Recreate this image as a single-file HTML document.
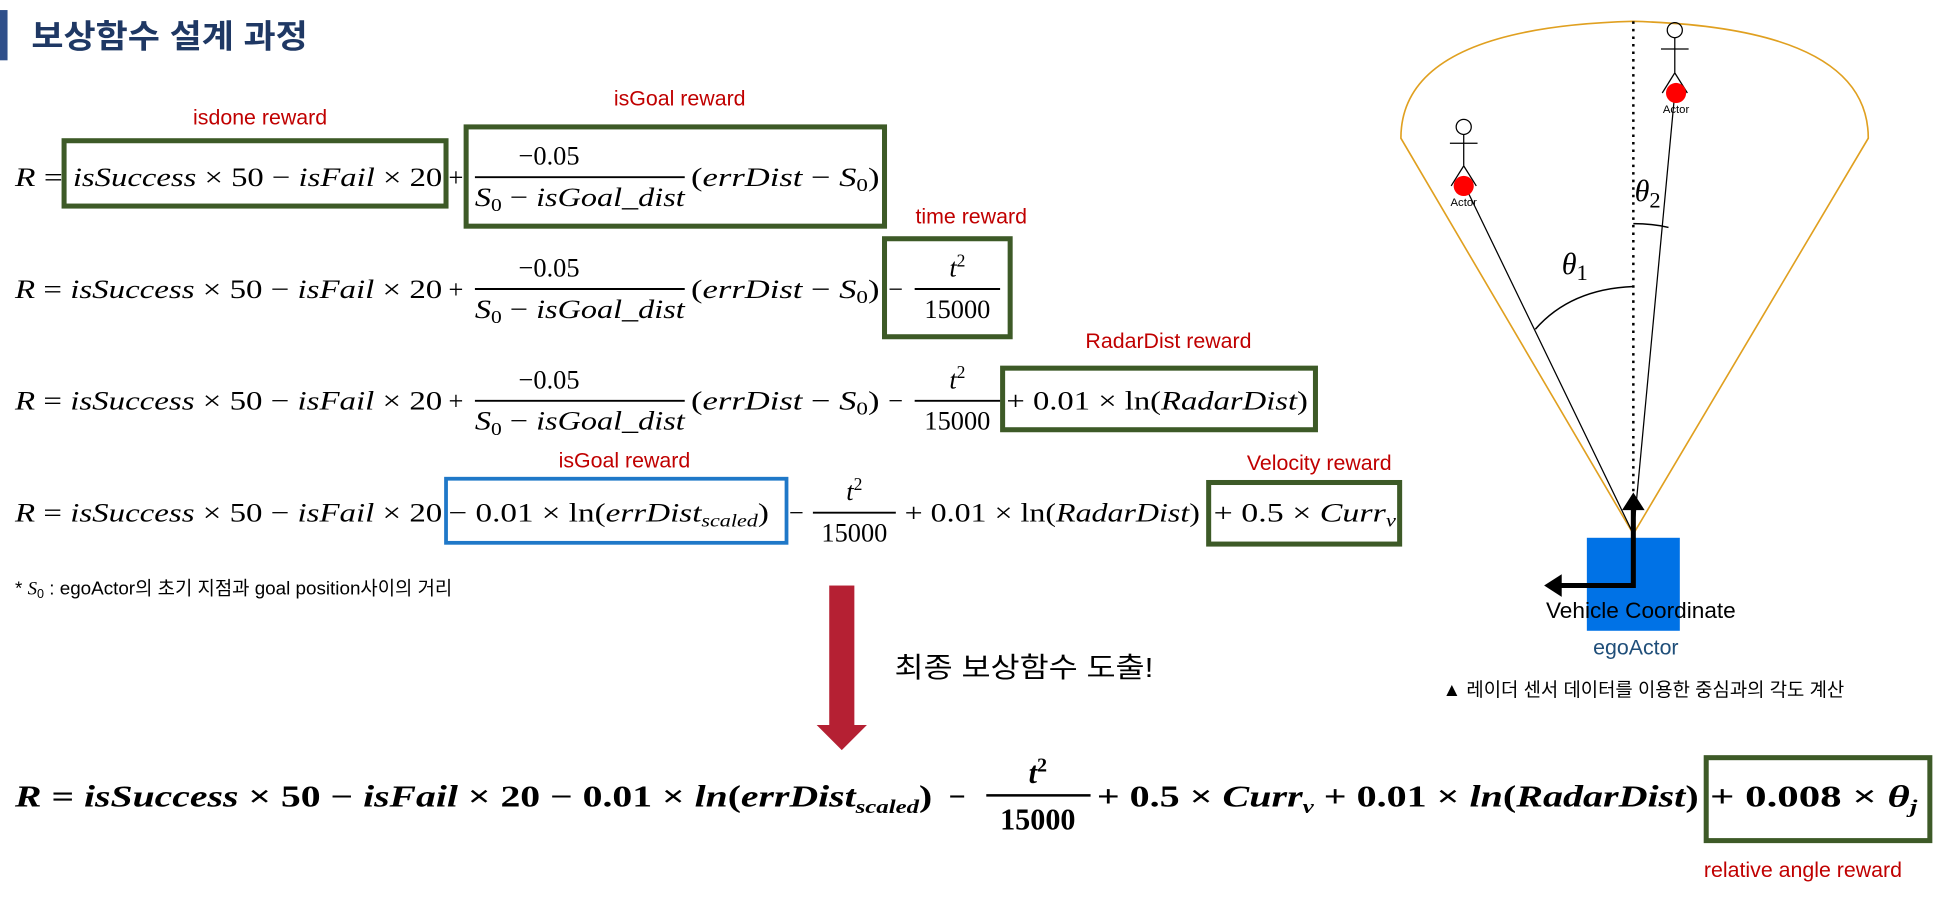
<!DOCTYPE html>
<html><head><meta charset="utf-8"><style>
html,body{margin:0;padding:0;background:#fff;}
svg{display:block;}
.m{font-family:"Liberation Serif",serif;font-style:italic;font-size:21px;fill:#000;}
.n{font-style:normal;}
.lab{font-family:"Liberation Sans","Noto Sans CJK KR",sans-serif;font-size:17px;fill:#c00000;text-anchor:middle;}
.b{font-weight:bold;font-size:24px;}
</style></head><body>
<svg width="1960" height="916" viewBox="0 0 1560 729" preserveAspectRatio="none" xmlns="http://www.w3.org/2000/svg">
<rect x="0" y="8" width="6" height="40" fill="#2f4f8a"/>
<text x="25" y="38" font-family="Liberation Sans,'Noto Sans CJK KR',sans-serif" font-size="26" font-weight="bold" fill="#1f3864" textLength="220" lengthAdjust="spacingAndGlyphs">보상함수 설계 과정</text>

<text class="lab" x="207" y="99">isdone reward</text>
<text class="lab" x="541" y="84">isGoal reward</text>
<text class="lab" x="773" y="178">time reward</text>
<text class="lab" x="930" y="277">RadarDist reward</text>
<text class="lab" x="497" y="372">isGoal reward</text>
<text class="lab" x="1050" y="374">Velocity reward</text>
<text class="lab" x="1435" y="698">relative angle reward</text>

<g fill="none" stroke="#3d5a27" stroke-width="4">
<rect x="51" y="112" width="304" height="52"/>
<rect x="371" y="101" width="333" height="79"/>
<rect x="704" y="190" width="100" height="78"/>
<rect x="798" y="293" width="249" height="49"/>
<rect x="962" y="384" width="152" height="49"/>
<rect x="1358" y="603" width="178" height="66"/>
</g>
<rect x="355" y="381" width="271" height="51" fill="none" stroke="#1f78c8" stroke-width="3"/>

<g lengthAdjust="spacingAndGlyphs">
<text class="m" x="12" y="148" textLength="38" lengthAdjust="spacingAndGlyphs">R <tspan class="n">=</tspan></text>
<text class="m" x="58" y="148" textLength="294" lengthAdjust="spacingAndGlyphs">isSuccess <tspan class="n">× 50 −</tspan> isFail <tspan class="n">× 20</tspan></text>
<text class="m n" x="357" y="148">+</text>
<text class="m n" x="437" y="131" text-anchor="middle">−0.05</text>
<line x1="378" y1="141" x2="545" y2="141" stroke="#000" stroke-width="1.5"/>
<text class="m" x="378" y="164" textLength="167" lengthAdjust="spacingAndGlyphs">S<tspan class="n" font-size="14" dy="4">0</tspan><tspan dy="-4" class="n"> − </tspan>isGoal_dist</text>
<text class="m" x="550" y="148" textLength="150" lengthAdjust="spacingAndGlyphs"><tspan class="n">(</tspan>errDist <tspan class="n">− </tspan>S<tspan class="n" font-size="14" dy="4">0</tspan><tspan class="n" dy="-4">)</tspan></text>

<text class="m" x="12" y="237" textLength="340" lengthAdjust="spacingAndGlyphs">R <tspan class="n">=</tspan> isSuccess <tspan class="n">× 50 −</tspan> isFail <tspan class="n">× 20</tspan></text>
<text class="m n" x="357" y="237">+</text>
<text class="m n" x="437" y="220" text-anchor="middle">−0.05</text>
<line x1="378" y1="230" x2="545" y2="230" stroke="#000" stroke-width="1.5"/>
<text class="m" x="378" y="253" textLength="167" lengthAdjust="spacingAndGlyphs">S<tspan class="n" font-size="14" dy="4">0</tspan><tspan dy="-4" class="n"> − </tspan>isGoal_dist</text>
<text class="m" x="550" y="237" textLength="150" lengthAdjust="spacingAndGlyphs"><tspan class="n">(</tspan>errDist <tspan class="n">− </tspan>S<tspan class="n" font-size="14" dy="4">0</tspan><tspan class="n" dy="-4">)</tspan></text>
<text class="m n" x="707" y="237">−</text>
<text class="m" x="762" y="220" text-anchor="middle">t<tspan class="n" font-size="14" dy="-8">2</tspan></text>
<line x1="728" y1="230" x2="796" y2="230" stroke="#000" stroke-width="1.5"/>
<text class="m n" x="762" y="253" text-anchor="middle">15000</text>

<text class="m" x="12" y="326" textLength="340" lengthAdjust="spacingAndGlyphs">R <tspan class="n">=</tspan> isSuccess <tspan class="n">× 50 −</tspan> isFail <tspan class="n">× 20</tspan></text>
<text class="m n" x="357" y="326">+</text>
<text class="m n" x="437" y="309" text-anchor="middle">−0.05</text>
<line x1="378" y1="319" x2="545" y2="319" stroke="#000" stroke-width="1.5"/>
<text class="m" x="378" y="342" textLength="167" lengthAdjust="spacingAndGlyphs">S<tspan class="n" font-size="14" dy="4">0</tspan><tspan dy="-4" class="n"> − </tspan>isGoal_dist</text>
<text class="m" x="550" y="326" textLength="150" lengthAdjust="spacingAndGlyphs"><tspan class="n">(</tspan>errDist <tspan class="n">− </tspan>S<tspan class="n" font-size="14" dy="4">0</tspan><tspan class="n" dy="-4">)</tspan></text>
<text class="m n" x="707" y="326">−</text>
<text class="m" x="762" y="309" text-anchor="middle">t<tspan class="n" font-size="14" dy="-8">2</tspan></text>
<line x1="728" y1="319" x2="796" y2="319" stroke="#000" stroke-width="1.5"/>
<text class="m n" x="762" y="342" text-anchor="middle">15000</text>
<text class="m" x="801" y="326" textLength="240" lengthAdjust="spacingAndGlyphs"><tspan class="n">+ 0.01 × ln(</tspan>RadarDist<tspan class="n">)</tspan></text>

<text class="m" x="12" y="415" textLength="340" lengthAdjust="spacingAndGlyphs">R <tspan class="n">=</tspan> isSuccess <tspan class="n">× 50 −</tspan> isFail <tspan class="n">× 20</tspan></text>
<text class="m" x="357" y="415" textLength="255" lengthAdjust="spacingAndGlyphs"><tspan class="n">− 0.01 × ln(</tspan>errDist<tspan font-size="14" dy="4">scaled</tspan><tspan class="n" dy="-4">)</tspan></text>
<text class="m n" x="628" y="415">−</text>
<text class="m" x="680" y="398" text-anchor="middle">t<tspan class="n" font-size="14" dy="-8">2</tspan></text>
<line x1="647" y1="408" x2="713" y2="408" stroke="#000" stroke-width="1.5"/>
<text class="m n" x="680" y="431" text-anchor="middle">15000</text>
<text class="m" x="720" y="415" textLength="235" lengthAdjust="spacingAndGlyphs"><tspan class="n">+ 0.01 × ln(</tspan>RadarDist<tspan class="n">)</tspan></text>
<text class="m" x="966" y="415" textLength="145" lengthAdjust="spacingAndGlyphs"><tspan class="n">+ 0.5 × </tspan>Curr<tspan font-size="14" dy="4">v</tspan></text>
</g>

<text x="12" y="473" font-family="Liberation Sans,'Noto Sans CJK KR',sans-serif" font-size="15" fill="#000">* <tspan font-family="Liberation Serif,serif" font-style="italic">S</tspan><tspan font-size="10" dy="3">0</tspan><tspan dy="-3"> : egoActor의 초기 지점과 goal position사이의 거리</tspan></text>

<rect x="660" y="466" width="20" height="112" fill="#b52033"/>
<polygon points="650,577 690,577 670,597" fill="#b52033"/>
<text x="712" y="539" font-family="Liberation Sans,'Noto Sans CJK KR',sans-serif" font-size="22" fill="#000" textLength="206" lengthAdjust="spacingAndGlyphs">최종 보상함수 도출!</text>

<text class="m b" x="12" y="642" textLength="730" lengthAdjust="spacingAndGlyphs">R <tspan class="n">=</tspan> isSuccess <tspan class="n">× 50 −</tspan> isFail <tspan class="n">× 20 − 0.01 ×</tspan> ln<tspan class="n">(</tspan>errDist<tspan font-size="15" dy="5">scaled</tspan><tspan class="n" dy="-5">)</tspan></text>
<text class="m b n" x="755" y="642">−</text>
<text class="m b" x="826" y="623" text-anchor="middle">t<tspan class="n" font-size="16" dy="-9">2</tspan></text>
<line x1="785" y1="633" x2="868" y2="633" stroke="#000" stroke-width="2"/>
<text class="m b n" x="826" y="660" text-anchor="middle">15000</text>
<text class="m b" x="873" y="642" textLength="479" lengthAdjust="spacingAndGlyphs"><tspan class="n">+ 0.5 ×</tspan> Curr<tspan font-size="15" dy="5">v</tspan><tspan class="n" dy="-5"> + 0.01 ×</tspan> ln<tspan class="n">(</tspan>RadarDist<tspan class="n">)</tspan></text>
<text class="m b" x="1361" y="642" textLength="165" lengthAdjust="spacingAndGlyphs"><tspan class="n">+ 0.008 ×</tspan> θ<tspan font-size="15" dy="5">j</tspan></text>

<path d="M1300,425 L1115,110 Q1115,22 1300,17 Q1487,22 1487,110 Z" fill="none" stroke="#e0a020" stroke-width="1.3"/>
<line x1="1300" y1="17" x2="1300" y2="425" stroke="#000" stroke-width="2" stroke-dasharray="2,4"/>
<line x1="1300" y1="425" x2="1166" y2="148" stroke="#000" stroke-width="1"/>
<line x1="1300" y1="425" x2="1333" y2="74" stroke="#000" stroke-width="1"/>
<path d="M1222,262 Q1250,230 1300,228" fill="none" stroke="#000" stroke-width="1.2"/>
<path d="M1300,178 Q1315,178 1328,181" fill="none" stroke="#000" stroke-width="1.2"/>
<text x="1243" y="218" font-family="Liberation Serif,serif" font-style="italic" font-size="24">θ<tspan font-style="normal" font-size="18" dy="5">1</tspan></text>
<text x="1301" y="160" font-family="Liberation Serif,serif" font-style="italic" font-size="24">θ<tspan font-style="normal" font-size="18" dy="5">2</tspan></text>
<g stroke="#000" stroke-width="1" fill="none">
<circle cx="1165" cy="101" r="6"/><line x1="1165" y1="107" x2="1165" y2="132"/><line x1="1154" y1="114" x2="1176" y2="114"/><line x1="1165" y1="132" x2="1155" y2="148"/><line x1="1165" y1="132" x2="1175" y2="148"/>
<circle cx="1333" cy="24" r="6"/><line x1="1333" y1="30" x2="1333" y2="58"/><line x1="1322" y1="39" x2="1344" y2="39"/><line x1="1333" y1="58" x2="1323" y2="74"/><line x1="1333" y1="58" x2="1343" y2="74"/>
</g>
<circle cx="1165" cy="148" r="8" fill="#f00"/>
<circle cx="1334" cy="74" r="8" fill="#f00"/>
<text x="1165" y="164" font-family="Liberation Sans,sans-serif" font-size="9" text-anchor="middle">Actor</text>
<text x="1334" y="90" font-family="Liberation Sans,sans-serif" font-size="9" text-anchor="middle">Actor</text>
<rect x="1263" y="428" width="74" height="74" fill="#0072e6"/>
<polyline points="1300,400 1300,466 1240,466" fill="none" stroke="#000" stroke-width="4"/>
<polygon points="1291,406 1309,406 1300,392" fill="#000"/>
<polygon points="1243,457 1243,475 1229,466" fill="#000"/>
<text x="1306" y="492" font-family="Liberation Sans,sans-serif" font-size="18" text-anchor="middle">Vehicle Coordinate</text>
<text x="1302" y="521" font-family="Liberation Sans,sans-serif" font-size="17" fill="#1f4e79" text-anchor="middle">egoActor</text>
<text x="1308" y="554" font-family="Liberation Sans,'Noto Sans CJK KR',sans-serif" font-size="15" text-anchor="middle">▲ 레이더 센서 데이터를 이용한 중심과의 각도 계산</text>
</svg>
</body></html>
